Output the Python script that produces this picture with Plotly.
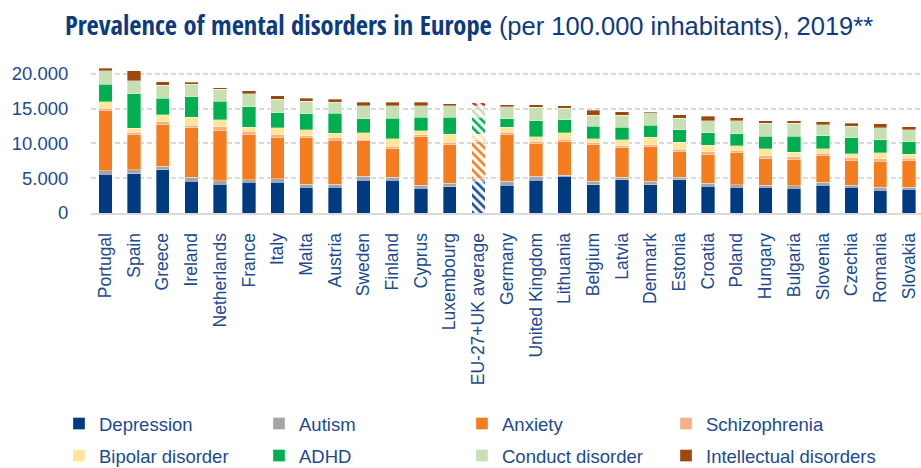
import plotly.graph_objects as go

countries = ["Portugal", "Spain", "Greece", "Ireland", "Netherlands", "France", "Italy", "Malta",
             "Austria", "Sweden", "Finland", "Cyprus", "Luxembourg", "EU-27+UK average", "Germany",
             "United Kingdom", "Lithuania", "Belgium", "Latvia", "Denmark", "Estonia", "Croatia",
             "Poland", "Hungary", "Bulgaria", "Slovenia", "Czechia", "Romania", "Slovakia"]

depression = [5590, 5680, 6210, 4540, 4160, 4390, 4390, 3680, 3680, 4680, 4680, 3530, 3770, 4540, 4010,
              4680, 5250, 4060, 4780, 4060, 4780, 3870, 3680, 3680, 3530, 4010, 3680, 3250, 3390]
autism = [480, 530, 480, 620, 480, 380, 530, 430, 430, 570, 480, 480, 480, 400, 530,
          570, 190, 480, 380, 480, 380, 380, 380, 330, 380, 380, 330, 430, 290]
anxiety = [8650, 5110, 6070, 7120, 7260, 6590, 5970, 6780, 6350, 5110, 4110, 6970, 5540, 5300, 6780,
           4780, 4870, 5250, 4250, 5020, 3730, 4160, 4630, 3820, 3820, 3920, 3530, 3680, 3820]
schizophrenia = [330, 290, 380, 340, 480, 380, 380, 240, 340, 240, 340, 290, 380, 300, 290,
                 290, 290, 330, 240, 290, 290, 380, 240, 380, 330, 290, 380, 430, 380]
bipolar = [960, 570, 1000, 1150, 1000, 570, 960, 810, 670, 960, 1050, 570, 1150, 750, 720,
           620, 960, 530, 910, 1050, 960, 960, 720, 1000, 670, 670, 570, 860, 570]
adhd = [2530, 4970, 2340, 2960, 2720, 2960, 2200, 2340, 2870, 1960, 2960, 1910, 2440, 2500, 1190,
        2340, 1860, 1860, 1770, 1720, 1820, 1820, 1770, 1860, 2340, 1820, 2340, 1910, 1820]
conduct = [1910, 1860, 1910, 1770, 1670, 1860, 1910, 1820, 1620, 1910, 1810, 1670, 1670, 1600, 1770,
           1910, 1620, 1530, 1720, 1820, 1670, 1720, 1820, 1820, 1820, 1620, 1620, 1670, 1670]
intellectual = [380, 1430, 480, 290, 240, 480, 530, 380, 380, 480, 480, 480, 290, 450, 290,
                380, 380, 770, 480, 140, 530, 620, 480, 380, 380, 430, 430, 570, 480]

series_names = ["Depression", "Autism", "Anxiety", "Schizophrenia",
                "Bipolar disorder", "ADHD", "Conduct disorder", "Intellectual disorders"]
series_values = [depression, autism, anxiety, schizophrenia, bipolar, adhd, conduct, intellectual]
series_colors = ["#003A80", "#A5A5A5", "#F47D20", "#F4B183",
                 "#FFE699", "#00B050", "#C6E0B4", "#9E480E"]
hatch_colors = ["#1F4E9A", "#A5A5A5", "#F47D20", "#F4B183",
                "#FFE699", "#00B050", "#C6E0B4", "#D0202A"]

y_tick_vals = [0, 5000, 10000, 15000, 20000]
y_tick_text = ["0", "5.000", "10.000", "15.000", "20.000"]

avg_label = "EU-27+UK average"
text_color = "#1D4A8E"
base_font = "Liberation Sans, Arial, sans-serif"

# legend layout: 4 columns x 2 rows (pixel positions of text start / row centre)
legend_cols_px = [99, 299, 502, 706]
legend_rows_px = [424, 456]

fig = go.Figure()
legend_ids = ["legend"] + ["legend%d" % k for k in range(2, 9)]
for i, (name, vals, col, hcol) in enumerate(zip(series_names, series_values, series_colors, hatch_colors)):
    shapes = ["\\" if c == avg_label else "" for c in countries]
    mcols = [hcol if c == avg_label else col for c in countries]
    fig.add_trace(go.Bar(
        x=countries, y=vals, name=name,
        marker=dict(color=mcols,
                    line=dict(color="rgba(255,255,255,0.7)", width=0.5),
                    pattern=dict(shape=shapes, bgcolor="white",
                                 fillmode="replace", size=6, solidity=0.45)),
        legend=legend_ids[i],
        hoverinfo="x+y+name",
    ))

legend_layouts = {}
for i, lid in enumerate(legend_ids):
    col_px = legend_cols_px[i % 4]
    row_px = legend_rows_px[i // 4]
    legend_layouts[lid] = dict(
        orientation="h", xref="container", yref="container",
        x=(col_px - 40) / 921, xanchor="left",
        y=1 - row_px / 468, yanchor="middle",
        font=dict(family=base_font, size=18.5, color=text_color),
        bgcolor="rgba(0,0,0,0)", borderwidth=0,
    )

title_text = ('<span style="font-family:Open Sans Condensed, Liberation Sans, sans-serif;font-size:26.5px">'
              '<b>Prevalence of mental disorders in Europe</b></span>'
              ' (per 100.000 inhabitants), 2019**')

fig.update_layout(
    barmode="stack",
    bargap=0.535,
    width=921, height=468,
    margin=dict(l=91, r=0, t=59.9, b=254.5),
    paper_bgcolor="white", plot_bgcolor="white",
    font=dict(family=base_font, color=text_color),
    title=dict(
        text=title_text,
        x=65 / 921, xanchor="left", xref="container",
        y=1 - 26 / 468, yanchor="middle", yref="container",
        font=dict(family=base_font, size=25.5, color="#0E3A80"),
    ),
    xaxis=dict(
        type="category", range=[-0.5, 28.42],
        tickangle=-90, tickfont=dict(size=17.5, color=text_color),
        ticks="outside", ticklen=11, tickcolor="rgba(0,0,0,0)",
        showline=True, linecolor="#D9D9D9", linewidth=2,
        showgrid=False, fixedrange=True,
    ),
    yaxis=dict(
        range=[0, 22000],
        tickvals=y_tick_vals, ticktext=y_tick_text,
        tickfont=dict(size=18.5, color=text_color),
        ticks="outside", ticklen=18, tickcolor="rgba(0,0,0,0)",
        showgrid=True, gridcolor="#D9D9D9", gridwidth=1.5, griddash="5px,3px",
        zeroline=False, showline=False, fixedrange=True,
    ),
    showlegend=True,
    **legend_layouts,
)

fig.write_html("out.html")
